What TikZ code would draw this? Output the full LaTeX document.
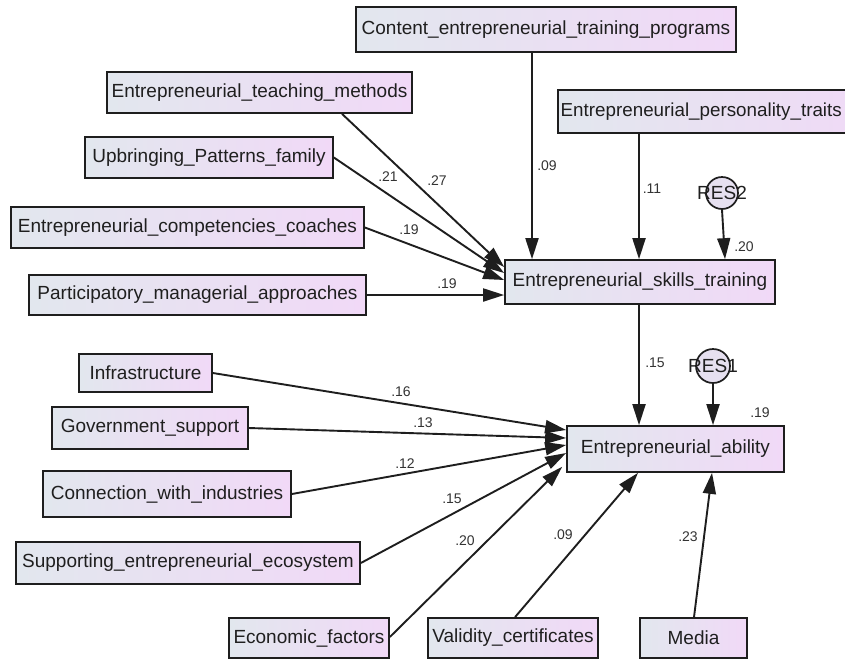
\documentclass[tikz,border=0pt]{standalone}
\usepackage{fontspec}
\setmainfont{Liberation Sans}
\usetikzlibrary{arrows.meta,calc}
\definecolor{boxleft}{HTML}{E2E7EE}
\definecolor{boxright}{HTML}{F1D9F7}
\definecolor{resfill}{HTML}{E6E0F0}
\definecolor{linec}{HTML}{1E1E1E}
\definecolor{labc}{HTML}{333333}
\tikzset{
  box/.style={rectangle, draw=linec, line width=1.7pt, left color=boxleft, right color=boxright,
    inner sep=0pt, font=\fontsize{19}{21}\selectfont, text=black!88},
  rescircle/.style={circle, draw=linec, line width=1.7pt, fill=resfill, inner sep=0pt},
  restext/.style={font=\fontsize{19}{21}\selectfont, text=black!88, inner sep=0pt},
  arr/.style={draw=linec, line width=1.9pt, -{Triangle[length=21pt,width=13pt]}},
  coef/.style={font=\fontsize{14}{16}\selectfont, text=labc, inner sep=0pt},
}
\begin{document}
\begin{tikzpicture}[x=1pt,y=-1pt]
\useasboundingbox (0,0) rectangle (845,659);
\clip (0,0) rectangle (845,659);
\fill[white] (0,0) rectangle (845,659);

% top group
\node[box, minimum width=380pt, minimum height=45pt] (content) at (546,29.5) {Content\_entrepreneurial\_training\_programs};
\node[box, minimum width=305pt, minimum height=41pt] (teach) at (259.5,92.5) {Entrepreneurial\_teaching\_methods};
\node[box, minimum width=248pt, minimum height=41pt] (upbr) at (209,157.5) {Upbringing\_Patterns\_family};
\node[box, minimum width=353pt, minimum height=41pt] (coach) at (187.5,227.5) {Entrepreneurial\_competencies\_coaches};
\node[box, minimum width=337pt, minimum height=40pt] (partic) at (197.5,295) {Participatory\_managerial\_approaches};
\node[box, anchor=west, minimum width=330pt, minimum height=43pt] (pers) at (557,111.5) {};
\node[restext, anchor=west, font=\fontsize{18.8}{21}\selectfont] (perst) at (560.5,111.5) {Entrepreneurial\_personality\_traits};
\node[box, minimum width=270pt, minimum height=44pt] (skills) at (640,282) {Entrepreneurial\_skills\_training};
\node[rescircle, minimum size=32pt] (res2) at (722,193) {};
\node[restext] (res2t) at (res2) {RES2};

% bottom group
\node[box, minimum width=217pt, minimum height=46pt] (ability) at (675.5,449) {Entrepreneurial\_ability};
\node[rescircle, minimum size=34pt] (res1) at (713,366) {};
\node[restext] (res1t) at (res1) {RES1};
\node[box, minimum width=133pt, minimum height=38pt] (infra) at (145.5,373) {Infrastructure};
\node[box, minimum width=196pt, minimum height=42pt] (gov) at (150,428) {Government\_support};
\node[box, minimum width=248pt, minimum height=46pt] (conn) at (167,494) {Connection\_with\_industries};
\node[box, minimum width=344pt, minimum height=42pt] (supp) at (188,563) {Supporting\_entrepreneurial\_ecosystem};
\node[box, minimum width=160pt, minimum height=40pt] (econ) at (309,638) {Economic\_factors};
\node[box, minimum width=170pt, minimum height=40pt] (valid) at (513,638) {Validity\_certificates};
\node[box, minimum width=107pt, minimum height=40pt] (media) at (693.5,638) {Media};

% arrows into skills
\draw[arr] ($(teach.south)+(82.5,0)$) -- ($(skills.west)+(0,-15)$);
\draw[arr] (upbr.east) -- ($(skills.west)+(0,-9)$);
\draw[arr] (coach.east) -- ($(skills.west)+(0,-2)$);
\draw[arr] (partic.east) -- ($(skills.west)+(0,13)$);
\draw[arr] ($(content.south)+(-14,0)$) -- ($(skills.north)+(-108,0)$);
\draw[arr] ($(pers.south west)+(82,0)$) -- ($(skills.north)+(-1,0)$);
\draw[arr] (res2.south) -- ($(skills.north)+(85,0)$);

% arrows into ability
\draw[arr] ($(skills.south)+(-1,0)$) -- ($(ability.north)+(-36.5,0)$);
\draw[arr] (res1.south) -- ($(ability.north)+(37.5,0)$);
\draw[arr] (infra.east) -- ($(ability.west)+(0,-19)$);
\draw[arr] (gov.east) -- ($(ability.west)+(0,-11)$);
\draw[arr] (conn.east) -- ($(ability.west)+(0,-4)$);
\draw[arr] (supp.east) -- ($(ability.west)+(0,4)$);
\draw[arr] ($(econ.east)+(0,-1)$) -- ($(ability.south west)+(-4,-6)$);
\draw[arr] ($(valid.north)+(2,0)$) -- ($(ability.south)+(-37.5,0)$);
\draw[arr] ($(media.north)+(0.5,0)$) -- ($(ability.south)+(36.5,0)$);

% coefficients
\node[coef] (c27) at (437,181) {.27};
\node[coef] (c21) at (388,177) {.21};
\node[coef] (c19a) at (409,230) {.19};
\node[coef] (c19b) at (447,284) {.19};
\node[coef] (c09a) at (547,166) {.09};
\node[coef] (c11) at (652,189) {.11};
\node[coef] (c20a) at (744,247) {.20};
\node[coef] (c15a) at (655,363) {.15};
\node[coef] (c19c) at (760,413) {.19};
\node[coef] (c16) at (401,392) {.16};
\node[coef] (c13) at (423,423) {.13};
\node[coef] (c12) at (405,464) {.12};
\node[coef] (c15b) at (452,499) {.15};
\node[coef] (c20b) at (465,541) {.20};
\node[coef] (c09b) at (563,535) {.09};
\node[coef] (c23) at (688,537) {.23};
\end{tikzpicture}
\end{document}
